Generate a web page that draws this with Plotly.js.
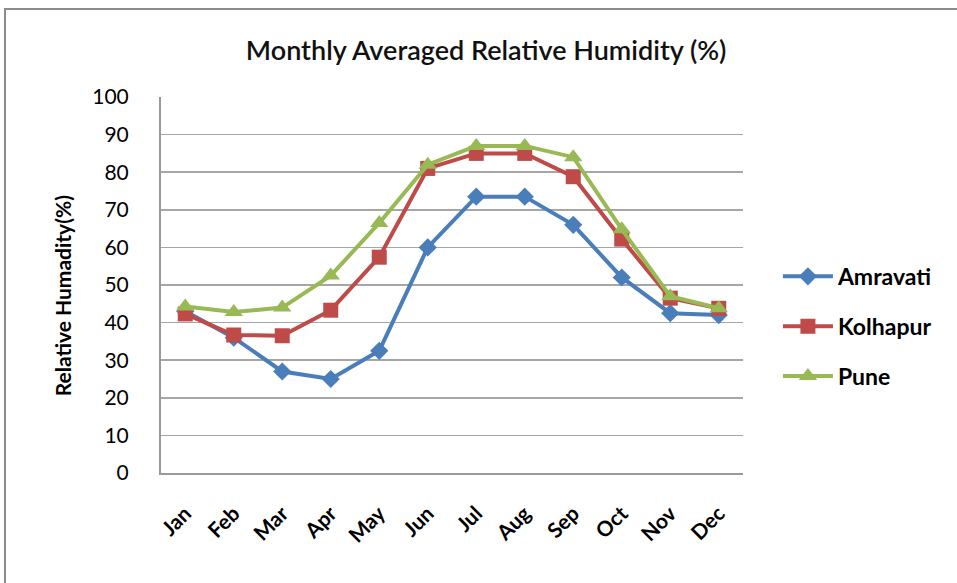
<!DOCTYPE html>
<html>
<head>
<meta charset="utf-8">
<script src="https://cdn.plot.ly/plotly-3.0.1.min.js"></script>
<style>
  html, body { margin: 0; padding: 0; background: #fff; }
  #wrap { position: relative; width: 957px; height: 583px; }
  #chart { width: 957px; height: 583px; }
  #frame { position: absolute; left: 4px; top: 8px; width: 960px; height: 600px;
           border-left: 2px solid #8c8c8c; border-top: 2px solid #8c8c8c; pointer-events: none; }
</style>
</head>
<body>
<div id="wrap">
  <div id="chart"></div>
  <div id="frame"></div>
</div>
<script>
const months = ["Jan","Feb","Mar","Apr","May","Jun","Jul","Aug","Sep","Oct","Nov","Dec"];
const amravati = [43, 36, 27, 25, 32.5, 60, 73.5, 73.5, 66, 52, 42.5, 42];
const kolhapur = [42.3, 36.7, 36.5, 43.3, 57.4, 81, 85, 85, 78.8, 62.2, 46.5, 43.8];
const pune     = [44.3, 42.8, 44, 52.5, 66.5, 82, 87, 87, 84, 64.8, 47, 43.8];
const yTicks = [0,10,20,30,40,50,60,70,80,90,100];

const font = "Lato, 'Open Sans', sans-serif";

const traces = [
  {name: "Amravati", y: amravati, color: "#4a7ebb", symbol: "diamond", size: 14},
  {name: "Kolhapur", y: kolhapur, color: "#be4b48", symbol: "square", size: 15},
  {name: "Pune", y: pune, color: "#98b954", symbol: "triangle-up", size: 16}
].map((s, i) => ({
  type: "scatter", mode: "lines+markers", name: s.name, x: months, y: s.y,
  legendgroup: "g" + i,
  line: {color: s.color, width: 4},
  marker: {color: s.color, symbol: s.symbol, size: s.size}
}));

const layout = {
  width: 957, height: 583,
  margin: {l: 161, r: 214, t: 97, b: 110},
  paper_bgcolor: "#fff", plot_bgcolor: "#fff",
  font: {family: font, color: "#000"},
  title: {text: "Monthly Averaged Relative Humidity (%)", x: 0.508, xanchor: "center",
          y: 0.913, yanchor: "middle", font: {family: font, size: 27, color: "#111", weight: 600}},
  showlegend: true,
  legend: {x: 1.06, y: 0.39, xanchor: "left", yanchor: "middle",
           traceorder: "grouped", tracegroupgap: 17,
           font: {family: font, size: 23, color: "#000", weight: "bold"}, itemwidth: 50},
  xaxis: {
    type: "category", range: [-0.5, 11.5], showgrid: false, zeroline: false,
    showline: true, linecolor: "#9a9a9a", linewidth: 2, ticks: "",
    tickangle: -45, tickfont: {family: font, size: 21, color: "#000", weight: "bold"},
    ticklabelstandoff: 18
  },
  yaxis: {
    range: [0, 100], tickvals: yTicks, showgrid: true, gridcolor: "#a6a6a6", gridwidth: 1.5,
    zeroline: false, showline: true, linecolor: "#9a9a9a", linewidth: 2, ticks: "",
    tickfont: {family: font, size: 21, color: "#000"}, ticklabelstandoff: 26
  },
  annotations: [{
    text: "Relative Humadity(%)", textangle: -90, showarrow: false,
    xref: "paper", yref: "paper", x: -0.17, y: 0.47, xanchor: "center", yanchor: "middle",
    font: {family: font, size: 21, color: "#000", weight: "bold"}
  }]
};

Plotly.newPlot("chart", traces, layout, {displayModeBar: false, staticPlot: true});
</script>
</body>
</html>
